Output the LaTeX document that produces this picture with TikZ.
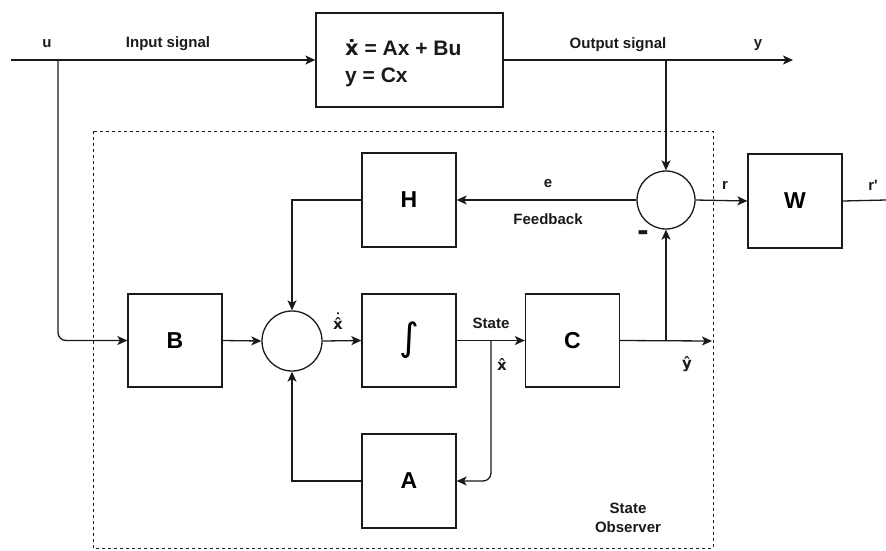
\documentclass[tikz,border=0pt]{standalone}
\usepackage{fontspec}
\setmainfont{Liberation Sans}
\newfontfamily\djv{DejaVu Sans}
\usetikzlibrary{arrows.meta}
\definecolor{ink}{HTML}{1A1A1A}
\tikzset{
  conn/.style={draw=ink, line width=1.3pt, -{Stealth[length=10pt,width=9pt,inset=2.5pt]}},
  plain/.style={draw=ink, line width=1.3pt},
  blk/.style={draw=ink, line width=1.3pt, rectangle, minimum width=94pt, minimum height=94pt, inner sep=0pt,
     font=\fontsize{23}{23}\selectfont\bfseries},
  sumc/.style={draw=ink, line width=1.3pt, circle, inner sep=0pt},
  lbl/.style={inner sep=0pt, text=ink, font=\fontsize{15}{19}\selectfont\bfseries},
  hatlbl/.style={inner sep=0pt, text=ink, font=\fontsize{15}{19}\selectfont\djv\bfseries},
  obs/.style={draw=ink, line width=1pt, dash pattern=on 3pt off 3pt}
}
\begin{document}
\begin{tikzpicture}[x=1pt,y=-1pt]
\useasboundingbox (0,0) rectangle (886,550);
% state observer frame
\draw[obs] (93,131) rectangle (713,548);
% blocks
\node[blk, minimum width=187pt] (plant) at (409.5,60) {};
\node[lbl, anchor=base west, font=\fontsize{21}{27}\selectfont\bfseries] (eq1) at (345,55) {{\djv ẋ} = Ax + Bu};
\node[lbl, anchor=base west, font=\fontsize{21}{27}\selectfont\bfseries] (eq2) at (345,82) {y = Cx};
\node[blk] (H) at (409,200) {H};
\node[blk, minimum height=93pt] (B) at (175,340.5) {B};
\node[sumc, minimum size=60pt] (ls) at (292,341) {};
\node[blk, minimum height=93pt, font=\fontsize{38}{38}\selectfont\djv] (I) at (409,340.5) {∫};
\node[blk, minimum height=93pt] (C) at (572.5,340.5) {C};
\node[blk] (A) at (409,481) {A};
\node[sumc, minimum size=58pt] (us) at (666,200) {};
\node[blk] (W) at (795,201) {W};
% helper coordinates
\coordinate (in) at (11,60);
\coordinate (ubr) at (58,60);
\coordinate (yend) at (793,60);
\coordinate (ybr) at (666,60);
\coordinate (st) at (491,341);
\coordinate (yh) at (712,341);
\coordinate (yhbr) at (666,341);
\coordinate (rend) at (886,200);
% connectors
\draw[conn] (in) -- (plant.west);
\draw[conn, rounded corners=8pt] (ubr) |- (B.west);
\draw[conn] (plant.east) -- (yend);
\draw[conn] (ybr) -- (us.north);
\draw[conn] (us.east) -- (W.west);
\draw[plain] (W.east) -- (rend);
\draw[conn] (us.west) -- (H.east);
\draw[conn] (H.west) -| (ls.north);
\draw[conn] (B.east) -- (ls.west);
\draw[conn] (ls.east) -- (I.west);
\draw[conn] (I.east) -- (C.west);
\draw[conn, rounded corners=8pt] (st) |- (A.east);
\draw[conn] (A.west) -| (ls.south);
\draw[conn] (C.east) -- (yh);
\draw[conn] (yhbr) -- (us.south);
% labels
\node[lbl] (lu) at (47,44) {u};
\node[lbl] (lin) at (168,44) {Input signal};
\node[lbl] (lout) at (618,45) {Output signal};
\node[lbl] (ly) at (758,45) {y};
\node[lbl] (le) at (548,184) {e};
\node[lbl] (lfb) at (548,219) {Feedback};
\node[lbl, font=\fontsize{34}{34}\selectfont\bfseries] (lminus) at (643,236) {-};
\node[lbl] (lr) at (725,185) {r};
\node[lbl] (lrp) at (873,185) {r\textquotesingle};
\node[hatlbl, anchor=base] (lxdh) at (338,329) {\ooalign{x̂\cr\hidewidth\raisebox{4.5pt}{˙}\hidewidth\cr}};
\node[lbl] (lst) at (491,323) {State};
\node[hatlbl] (lxh) at (502,364) {x̂};
\node[hatlbl] (lyh) at (687,364) {ŷ};
\node[lbl, align=center] (lso) at (628,518) {State\\Observer};
\end{tikzpicture}
\end{document}
